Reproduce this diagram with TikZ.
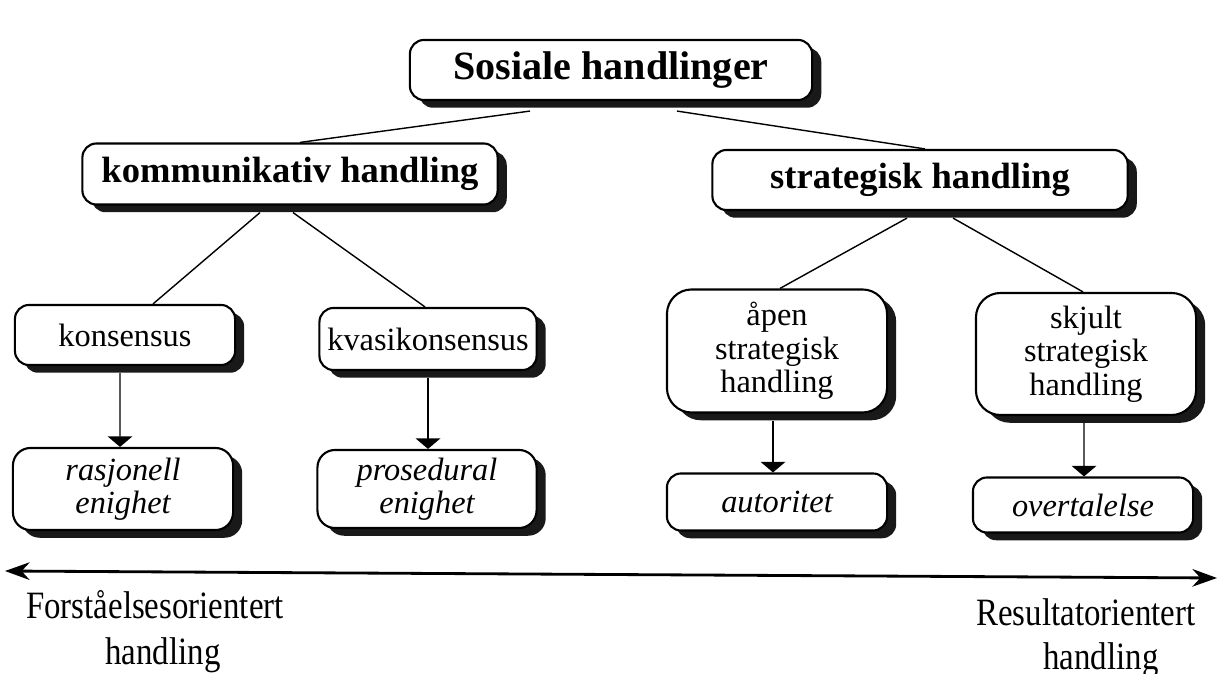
\documentclass[tikz,border=0pt]{standalone}
\usepackage{fontspec}
\setmainfont{Liberation Serif}
\usetikzlibrary{arrows.meta,shadows}

\begin{document}
\begin{tikzpicture}[x=0.01cm,y=-0.01cm,
  box/.style={draw, semithick, fill=white, rounded corners=4pt, align=center, inner sep=0pt,
    drop shadow={shadow xshift=2.6pt, shadow yshift=-2.2pt, fill=black, opacity=0.9}},
  headbox/.style={box, font=\bfseries\fontsize{10.4}{12}\selectfont, minimum width=4.15cm, minimum height=0.61cm},
  midbox/.style={box, font=\fontsize{9.2}{9.5}\selectfont, minimum width=2.2cm},
  endbox/.style={box, font=\itshape\fontsize{9.2}{9.5}\selectfont, minimum width=2.2cm},
  pole/.style={font=\fontsize{11}{13}\selectfont, xscale=0.85},
  arr/.style={-{Triangle[width=7pt,length=3pt]}}]
  \fill[white] (0,0) rectangle (1222,674);
  \useasboundingbox (0,0) rectangle (1222,674);

  \node[headbox, font=\bfseries\fontsize{11.4}{13}\selectfont, minimum width=4.02cm, minimum height=0.6cm] (sos) at (611,70) {Sosiale handlinger};
  \node[headbox] (komm) at (290,174) {kommunikativ handling};
  \node[headbox, minimum height=0.6cm] (strat) at (920,180) {strategisk handling};

  \node[midbox, minimum height=0.6cm] (kons) at (125,335) {konsensus};
  \node[midbox, minimum width=2.17cm, minimum height=0.62cm] (kvasi) at (428,339) {kvasikonsensus};
  \node[midbox, rounded corners=7pt, minimum height=1.23cm] (apen) at (777,351) {åpen\\strategisk\\handling};
  \node[midbox, rounded corners=7pt, minimum height=1.22cm] (skjult) at (1086,354) {skjult\\strategisk\\handling};

  \node[endbox, rounded corners=5pt, minimum height=0.82cm] (rasj) at (123,489) {rasjonell\\enighet};
  \node[endbox, rounded corners=5pt, minimum width=2.19cm, minimum height=0.78cm] (pros) at (427,489) {prosedural\\enighet};
  \node[endbox, minimum height=0.57cm] (auto) at (777,502) {autoritet};
  \node[endbox, minimum height=0.55cm] (overt) at (1083,505) {overtalelse};

  \draw ([xshift=-0.81cm,yshift=-0.1cm]sos.south) -- ([xshift=0.1cm]komm.north);
  \draw ([xshift=0.66cm,yshift=-0.1cm]sos.south) -- ([xshift=0.05cm]strat.north);
  \draw ([xshift=-0.3cm,yshift=-0.07cm]komm.south) -- ([xshift=0.28cm]kons.north);
  \draw ([xshift=0.03cm,yshift=-0.07cm]komm.south) -- ([xshift=-0.03cm]kvasi.north);
  \draw ([xshift=-0.13cm,yshift=-0.07cm]strat.south) -- ([xshift=0.03cm]apen.north);
  \draw ([xshift=0.33cm,yshift=-0.07cm]strat.south) -- ([xshift=-0.03cm]skjult.north);

  \draw[arr] ([xshift=-0.05cm,yshift=-0.07cm]kons.south) -- ([xshift=-0.03cm]rasj.north);
  \draw[arr] ([yshift=-0.07cm]kvasi.south) -- ([xshift=0.01cm]pros.north);
  \draw[arr] ([xshift=-0.04cm,yshift=-0.07cm]apen.south) -- ([xshift=-0.04cm]auto.north);
  \draw[arr] ([xshift=-0.02cm,yshift=-0.07cm]skjult.south) -- ([xshift=0.01cm]overt.north);

  % axis from one pole to the other
  \coordinate (axl) at (5,571);
  \coordinate (axr) at (1217,578);
  \draw[thick, {Stealth[length=7pt,width=5pt]}-{Stealth[length=7pt,width=5pt]}] (axl) -- (axr);
  \node[pole] (forst) at (155,605) {Forståelsesorientert};
  \node[pole] (forsth) at (163,655) {handling};
  \node[pole] (res) at (1086,612) {Resultatorientert};
  \node[pole] (resh) at (1101,660) {handling};
\end{tikzpicture}
\end{document}
